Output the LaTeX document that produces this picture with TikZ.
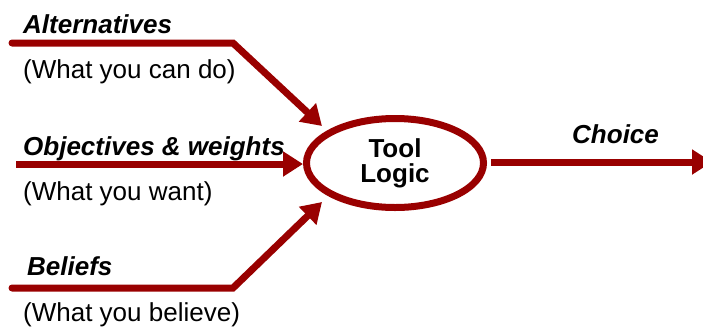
\documentclass[tikz,border=0pt]{standalone}
\usepackage{fontspec}
\setmainfont{Liberation Sans}
\usetikzlibrary{arrows.meta,shapes.geometric}
\definecolor{dred}{HTML}{990000}
\begin{document}
\begin{tikzpicture}[x=1pt,y=-1pt,
  conn/.style={draw=dred,line width=7pt,-{Triangle[length=20pt,width=24pt]}},
  lbl/.style={anchor=base west,inner sep=0pt,font=\fontsize{26}{29}\selectfont\bfseries\itshape},
  sub/.style={anchor=base west,inner sep=0pt,font=\fontsize{26}{29}\selectfont}]
\useasboundingbox (0,0) rectangle (703,330);
\node[draw=dred,line width=7pt,ellipse,minimum width=177pt,minimum height=89pt,inner sep=0pt,
      align=center,font=\fontsize{26}{25}\selectfont\bfseries] (logic) at (395,163) {Tool\\Logic};
\node[lbl] (alt) at (23,33) {Alternatives};
\node[sub] (altd) at (23,78) {(What you can do)};
\node[lbl] (obj) at (23,155) {Objectives \& weights};
\node[sub] (objd) at (23,200) {(What you want)};
\node[lbl] (bel) at (27,275) {Beliefs};
\node[sub] (beld) at (23,321) {(What you believe)};
\node[lbl] (cho) at (572,143) {Choice};
\coordinate (a0) at (12,43);
\coordinate (a1) at (233,43);
\coordinate (a2) at (322,126);
\coordinate (o0) at (16,164);
\coordinate (o1) at (303,164);
\coordinate (b0) at (12,288);
\coordinate (b1) at (233,288);
\coordinate (b2) at (322,202);
\coordinate (c1) at (712,162);
\draw[conn,line cap=round,line join=miter] (a0) -- (a1) -- (a2);
\draw[conn] (o0) -- (o1);
\draw[conn,line cap=round] (b0) -- (b1) -- (b2);
\draw[conn] (logic.east) ++(4,-1) coordinate (c0) (c0) -- (c1);
\end{tikzpicture}
\end{document}
